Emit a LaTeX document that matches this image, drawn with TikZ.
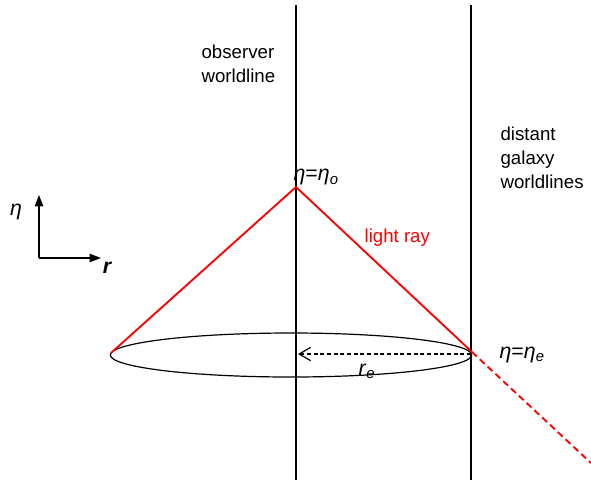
\documentclass[tikz,border=0pt]{standalone}
\usepackage{fontspec}
\setmainfont{Liberation Sans}
\usepackage{tikz}
\usetikzlibrary{arrows.meta}
\newcommand{\itsub}[2]{\textit{#1}\textsubscript{\textit{#2}}}

\begin{document}
\begin{tikzpicture}[x=0.75pt,y=-0.75pt,font=\fontsize{14}{18}\selectfont,
    line width=0.9pt,
    worldline/.style={black},
    ray/.style={red,line width=1.4pt},
    lbl/.style={inner sep=0pt,align=left},
    sym/.style={inner sep=0pt,font=\fontsize{16}{18}\selectfont}]
  \useasboundingbox (0,0) rectangle (591,482);
  % worldlines
  \coordinate (Otop) at (296,5);
  \coordinate (Obot) at (296,480);
  \coordinate (Gtop) at (471,5);
  \coordinate (Gbot) at (471,480);
  \draw[worldline] (Otop) -- (Obot);
  \draw[worldline] (Gtop) -- (Gbot);
  % past light cone
  \coordinate (apex) at (296,187);
  \coordinate (edgeL) at (111,353);
  \coordinate (emit) at (472,352);
  \coordinate (rayend) at (591,463);
  \draw (291,355) ellipse [x radius=135.5pt, y radius=16.5pt];
  \draw[ray] (edgeL) -- (apex) -- (emit);
  \draw[ray,dash pattern=on 5pt off 3pt] (emit) -- (rayend);
  \coordinate (rL) at (298,354);
  \coordinate (rR) at (471,354);
  \draw[-{Straight Barb[length=3mm,width=3.5mm]},dash pattern=on 3pt off 2pt] (rR) -- (rL);
  \node[sym,anchor=base] (re) at (367,375) {\itsub{r}{e}};
  % labels
  \node[sym,anchor=south west] (etao) at (293,186) {\textit{η}=\itsub{η}{o}};
  \node[sym,anchor=west] (etae) at (499,355) {\textit{η}=\itsub{η}{e}};
  \node[lbl,text=red,anchor=west] (light) at (364,238) {light ray};
  \node[lbl,anchor=north west] (obs) at (201,44) {observer\\worldline};
  \node[lbl,anchor=north west] (gal) at (500,126) {distant\\galaxy\\worldlines};
  % axes
  \coordinate (orig) at (39,258);
  \coordinate (up) at (39,195);
  \coordinate (right) at (101,258);
  \draw[-{Triangle[length=3mm,width=2.2mm]}] (orig) -- (up);
  \draw[-{Triangle[length=3mm,width=2.2mm]}] (orig) -- (right);
  \node[sym] (eta) at (16,212) {\textit{η}};
  \node[sym] (r) at (107,268) {\bfseries\itshape r};
\end{tikzpicture}
\end{document}
